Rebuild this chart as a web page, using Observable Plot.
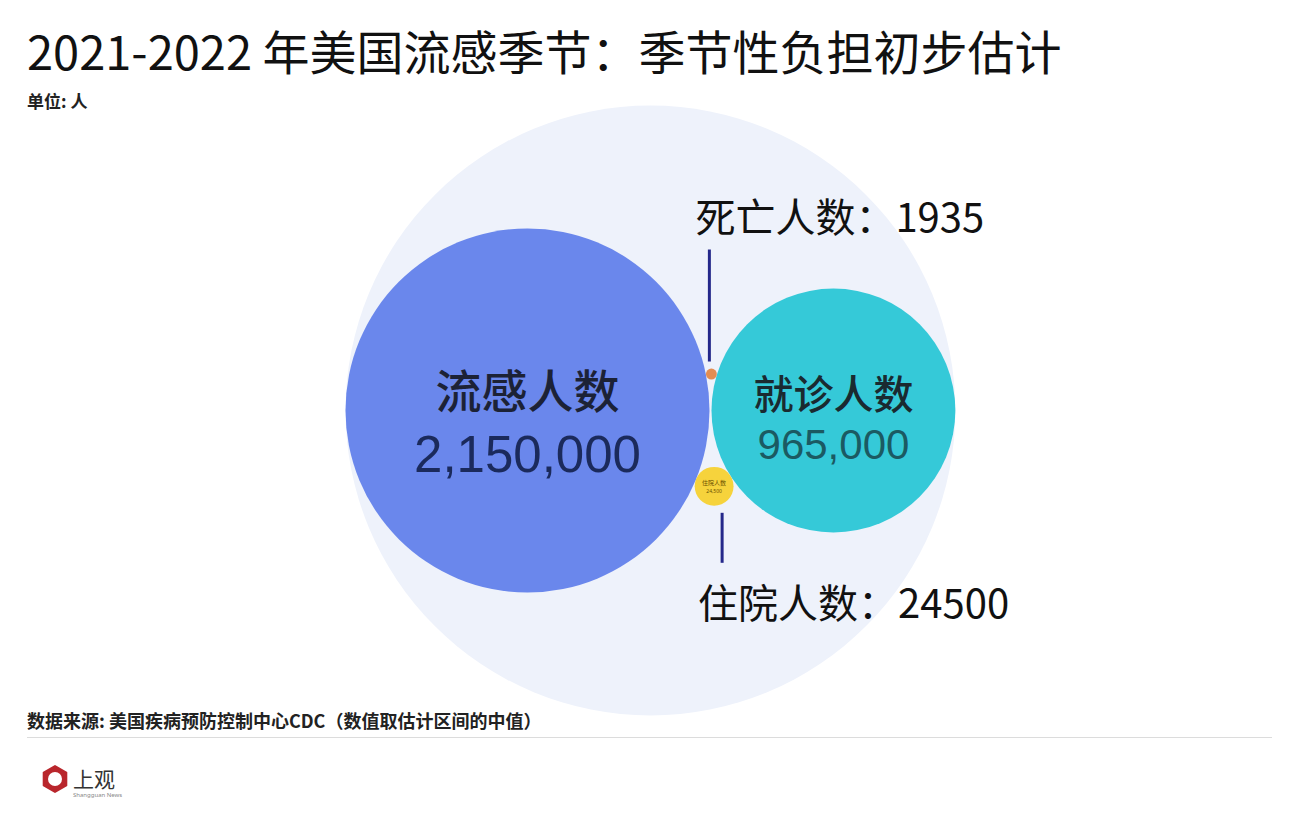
<!DOCTYPE html>
<html>
<head>
<meta charset="utf-8">
<script src="https://cdn.jsdelivr.net/npm/d3@7"></script>
<script src="https://cdn.jsdelivr.net/npm/@observablehq/plot@0.6"></script>
<style>
  html, body { margin: 0; padding: 0; background: #ffffff; }
  #wrap { position: relative; width: 1300px; height: 820px; overflow: hidden; font-family: "Noto Sans CJK SC", "Noto Sans", sans-serif; color: #111; }
  #chart { position: absolute; left: 0; top: 95px; }
  #title { position: absolute; left: 27px; top: 26px; font-size: 47px; line-height: 1; font-weight: 400; white-space: nowrap; color: #111; }
  #subtitle { position: absolute; left: 27px; top: 92px; font-size: 17px; line-height: 1; font-weight: 700; color: #222; white-space: nowrap; }
  #source { position: absolute; left: 27px; top: 711px; font-size: 18px; line-height: 1; font-weight: 700; color: #222; white-space: nowrap; }
  #rule { position: absolute; left: 27px; top: 737px; width: 1245px; height: 1px; background: #dcdcdc; }
  #logoMark { position: absolute; left: 40px; top: 764px; }
  #logoText { position: absolute; left: 73px; top: 766px; font-size: 21px; line-height: 1.2; color: #333; white-space: nowrap; }
  #logoSub { position: absolute; left: 73px; top: 792px; font-size: 6px; line-height: 1; color: #888; white-space: nowrap; font-family: "Noto Sans"; }
</style>
</head>
<body>
<div id="wrap">
  <div id="chart"></div>
  <div id="title"></div>
  <div id="subtitle"></div>
  <div id="source"></div>
  <div id="rule"></div>
  <div id="logoMark">
    <svg width="30" height="30">
      <polygon points="15,2 26.3,8.5 26.3,21.5 15,28 3.7,21.5 3.7,8.5" fill="#b9262c" stroke="#b9262c" stroke-width="2" stroke-linejoin="round"/>
      <circle cx="15" cy="15" r="7" fill="#fff"/>
    </svg>
  </div>
  <div id="logoText">上观</div>
  <div id="logoSub">Shangguan News</div>
</div>
<script>
// ---- data ----
const titleText = "2021-2022 年美国流感季节：季节性负担初步估计";
const subtitleText = "单位: 人";
const sourceText = "数据来源: 美国疾病预防控制中心CDC（数值取估计区间的中值）";
const categories = ["流感人数", "就诊人数", "住院人数", "死亡人数"];
const values = [2150000, 965000, 24500, 1935];
const valueLabels = ["2,150,000", "965,000", "24,500", "1935"];
const calloutLabels = ["死亡人数：1935", "住院人数：24500"];

document.getElementById("title").textContent = titleText;
document.getElementById("subtitle").textContent = subtitleText;
document.getElementById("source").textContent = sourceText;

// ---- layout (derived from values) ----
const W = 1300, H = 635;
const maxR = 182;
const maxV = d3.max(values);
const rOf = v => maxR * Math.sqrt(v / maxV);
const cy = 315;
const bigR = rOf(values[0]), midR = rOf(values[1]);
const bigX = 527;
const midX = bigX + bigR + midR + 2;
// place a small circle tangent to both large circles
function tangent(r, above) {
  const d = midX - bigX, a = bigR + r, b = midR + r;
  const x = (a * a - b * b + d * d) / (2 * d);
  const h = Math.sqrt(Math.max(0, a * a - x * x));
  return [bigX + x, above ? cy - h : cy + h];
}
const [hospX, hospY] = tangent(rOf(values[2]), false);
const [deathX, deathY] = tangent(rOf(values[3]), true);

const colors = ["#6a87ec", "#35c9d8", "#f6d33c", "#e38d52"];
const circles = categories.map((c, i) => ({
  name: c, value: values[i], label: valueLabels[i], color: colors[i],
  x: [bigX, midX, hospX, deathX][i], y: [cy, cy, hospY, deathY][i]
}));

const encX = (bigX - bigR + midX + midR) / 2;
const encR = (midX + midR - (bigX - bigR)) / 2;

const big = circles[0], mid = circles[1], hosp = circles[2], death = circles[3];

const chart = Plot.plot({
  width: W, height: H,
  margin: 0,
  style: {background: "transparent"},
  x: {domain: [0, W], range: [0, W], axis: null},
  y: {domain: [0, H], range: [0, H], axis: null},
  r: {type: "sqrt", domain: [0, maxV], range: [0, maxR]},
  marks: [
    Plot.dot([{x: encX, y: cy}], {x: "x", y: "y", r: encR, fill: "#eef2fb", stroke: "none", ariaLabel: "bg"}),
    Plot.dot(circles, {x: "x", y: "y", r: "value", fill: "color", stroke: "none"}),
    // big circle labels
    Plot.text([big], {x: "x", y: d => d.y - 17, text: "name", fontSize: 46, fontWeight: 500, fill: "#1c2236", fontFamily: "Noto Sans CJK SC"}),
    Plot.text([big], {x: "x", y: d => d.y + 45, text: "label", fontSize: 51, fill: "#1b2a5c", fontFamily: "Liberation Sans"}),
    Plot.text([mid], {x: "x", y: d => d.y - 14, text: "name", fontSize: 40, fontWeight: 500, fill: "#1a2a30", fontFamily: "Noto Sans CJK SC"}),
    Plot.text([mid], {x: "x", y: d => d.y + 35, text: "label", fontSize: 42, fill: "#1b5a62", fontFamily: "Liberation Sans"}),
    // tiny text inside yellow circle
    Plot.text([hosp], {x: "x", y: d => d.y - 3, text: "name", fontSize: 6, fill: "#6b5200", fontFamily: "Noto Sans CJK SC"}),
    Plot.text([hosp], {x: "x", y: d => d.y + 5, text: "label", fontSize: 5, fill: "#6b5200", fontFamily: "Noto Sans"}),
    // callouts
    Plot.ruleX([death], {x: d => d.x - 2, y1: d => d.y - 12, y2: d => d.y - 124, stroke: "#24288a", strokeWidth: 3}),
    Plot.text([death], {x: d => d.x - 16, y: d => d.y - 155, text: () => calloutLabels[0], textAnchor: "start", fontSize: 40, fontWeight: 400, fill: "#111", fontFamily: "Noto Sans CJK SC"}),
    Plot.ruleX([hosp], {x: d => d.x + 8, y1: d => d.y + 27, y2: d => d.y + 77, stroke: "#24288a", strokeWidth: 3}),
    Plot.text([hosp], {x: d => d.x - 16, y: d => d.y + 119, text: () => calloutLabels[1], textAnchor: "start", fontSize: 40, fontWeight: 400, fill: "#111", fontFamily: "Noto Sans CJK SC"})
  ]
});

// soft radial fade for the background circle
const svg = d3.select(chart);
const grad = svg.insert("defs", ":first-child").append("radialGradient").attr("id", "bgGrad");
[[0, "#eef2fb"], [0.8, "#eff2fb"], [0.93, "#f3f6fc"], [1, "#fbfcfe"]].forEach(([o, c]) =>
  grad.append("stop").attr("offset", o).attr("stop-color", c));
svg.select('g[aria-label="bg"] circle').attr("fill", "url(#bgGrad)");

document.getElementById("chart").appendChild(chart);
</script>
</body>
</html>
